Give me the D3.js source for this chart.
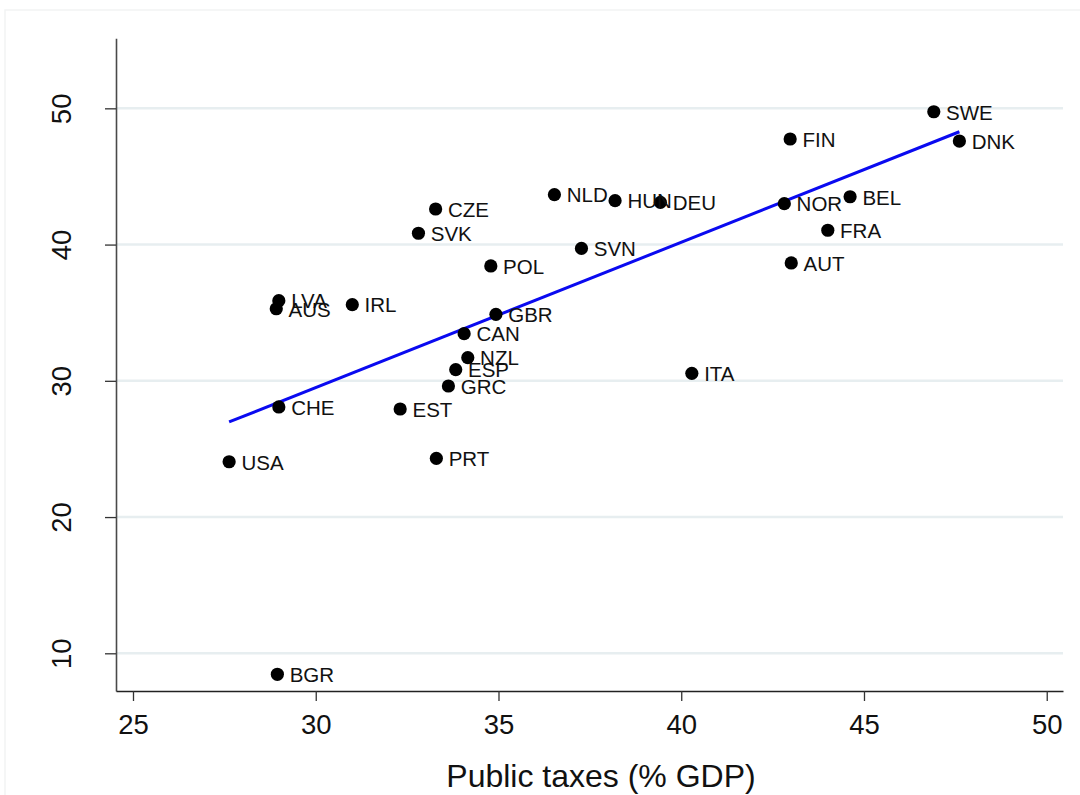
<!DOCTYPE html>
<html>
<head>
<meta charset="utf-8">
<script src="https://cdn.jsdelivr.net/npm/d3@7"></script>
<style>
  html, body { margin: 0; padding: 0; background: #fff; }
  svg { display: block; font-family: "Liberation Sans", Arial, Helvetica, sans-serif; }
</style>
</head>
<body>
<svg id="chart" width="1080" height="795"></svg>
<script>
// ---- data ----
const countries = ["SWE","DNK","FIN","NOR","BEL","FRA","AUT","CZE","SVK","NLD","HUN","DEU","SVN","POL",
                   "LVA","AUS","IRL","GBR","CAN","NZL","ESP","GRC","CHE","EST","ITA","USA","PRT","BGR"];
const publicTaxes = [46.91,47.61,42.98,42.82,44.62,44.01,43.01,33.28,32.81,36.53,38.19,39.43,37.27,34.79,
                     28.99,28.92,31.00,34.93,34.06,34.16,33.83,33.63,28.99,32.31,40.29,27.63,33.30,28.95];
const yValues =    [49.75,47.60,47.75,43.00,43.51,41.05,38.65,42.61,40.83,43.66,43.22,43.10,39.72,38.43,
                     35.88,35.29,35.59,34.88,33.46,31.70,30.82,29.62,28.08,27.93,30.55,24.06,24.31,8.46];
// fitted line endpoints (as drawn)
const fitX = [27.63, 47.61];
const fitY = [26.98, 48.28];
const xTicks = [25, 30, 35, 40, 45, 50];
const yTicks = [10, 20, 30, 40, 50];
const xTitle = "Public taxes (% GDP)";

// ---- layout ----
const svg = d3.select("#chart");
const x = d3.scaleLinear().domain([24.535, 50.445]).range([116, 1063]);
const y = d3.scaleLinear().domain([7.233, 55.14]).range([691, 38.3]);

// faint outer frame
svg.append("path")
  .attr("d", "M5,795 L5,10 L1080,10")
  .attr("fill", "none").attr("stroke", "#f2f4f4").attr("stroke-width", 1.5);

// gridlines
svg.append("g").selectAll("line").data(yTicks).join("line")
  .attr("x1", x.range()[0]).attr("x2", x.range()[1])
  .attr("y1", d => y(d)).attr("y2", d => y(d))
  .attr("stroke", "#e7eef0").attr("stroke-width", 2.5);

// y axis
const gy = svg.append("g").attr("transform", `translate(${x.range()[0]},0)`)
  .call(d3.axisLeft(y).tickValues(yTicks).tickSize(11).tickSizeOuter(0));
gy.select(".domain").attr("stroke", "#4a4a4a").attr("stroke-width", 1.6);
gy.selectAll(".tick line").attr("stroke", "#333").attr("stroke-width", 1.3);
gy.selectAll(".tick text")
  .attr("x", null).attr("dy", null)
  .attr("transform", "translate(-45,0) rotate(-90)")
  .attr("text-anchor", "middle")
  .attr("font-size", 27.5).attr("fill", "#111")
  .style("font-family", "Liberation Sans, Arial, sans-serif");

// x axis
const gx = svg.append("g").attr("transform", `translate(0,${y.range()[0]})`)
  .call(d3.axisBottom(x).tickValues(xTicks).tickSize(10).tickSizeOuter(0));
gx.select(".domain").attr("stroke", "#222").attr("stroke-width", 1.6);
gx.selectAll(".tick line").attr("stroke", "#333").attr("stroke-width", 1.3);
gx.selectAll(".tick text")
  .attr("y", 43).attr("dy", null)
  .attr("font-size", 27.5).attr("fill", "#111")
  .style("font-family", "Liberation Sans, Arial, sans-serif");

// x axis title
svg.append("text")
  .attr("x", 601).attr("y", 787)
  .attr("text-anchor", "middle")
  .attr("font-size", 32).attr("fill", "#111")
  .text(xTitle);

// fitted line
svg.append("path")
  .datum(d3.zip(fitX, fitY))
  .attr("d", d3.line().x(d => x(d[0])).y(d => y(d[1])))
  .attr("fill", "none").attr("stroke", "#0a0af0").attr("stroke-width", 3);

// points
const pts = d3.zip(countries, publicTaxes, yValues);
svg.append("g").selectAll("circle").data(pts).join("circle")
  .attr("cx", d => x(d[1])).attr("cy", d => y(d[2]))
  .attr("r", 6.6).attr("fill", "#000");

// labels
svg.append("g").selectAll("text").data(pts).join("text")
  .attr("x", d => x(d[1]) + 12.3).attr("y", d => y(d[2]))
  .attr("dy", "0.38em")
  .attr("font-size", 20.5).attr("fill", "#111")
  .text(d => d[0]);
</script>
</body>
</html>
